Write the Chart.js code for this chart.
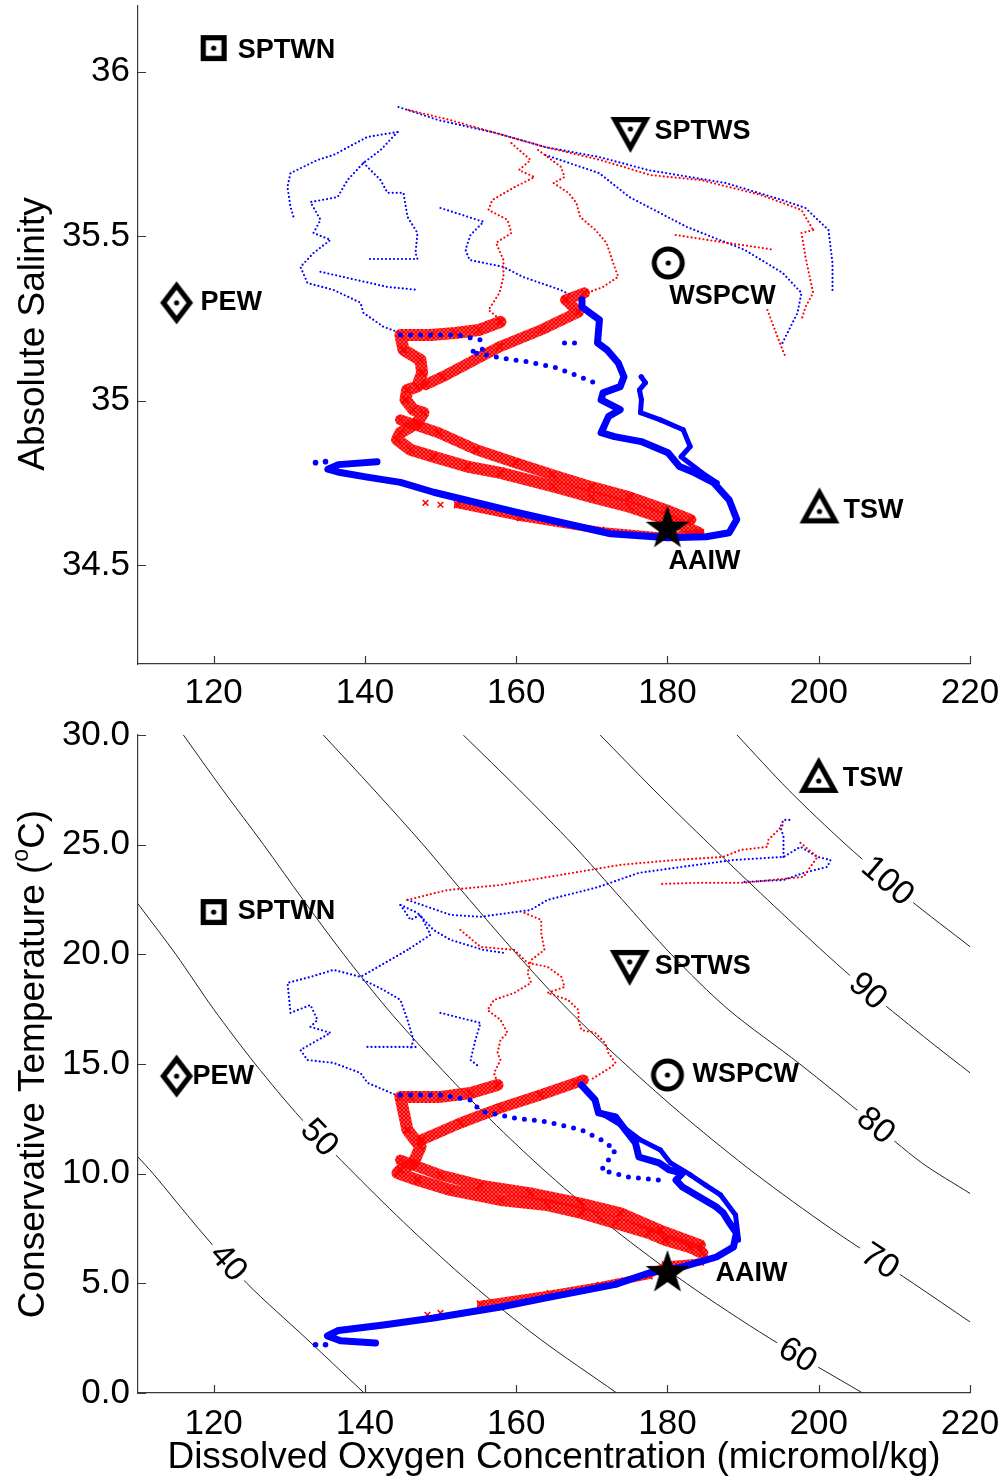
<!DOCTYPE html>
<html lang="en">
<head>
<meta charset="UTF-8">
<title>Absolute salinity and temperature against dissolved oxygen</title>
<script src="https://cdn.jsdelivr.net/npm/chart.js@4.4.0/dist/chart.umd.min.js"></script>
<style>
  body { margin: 0; background: #fff; }
  #wrap { position: relative; width: 1008px; height: 1478px; }
  #wrap canvas { position: absolute; left: 0; }
</style>
</head>
<body>
<div id="wrap">
  <canvas id="topChart" width="1008" height="720" style="top:0"></canvas>
  <canvas id="bottomChart" width="1008" height="778" style="top:700px"></canvas>
</div>
<script>
// ---- axes ----
const oxygenTicks = [120, 140, 160, 180, 200, 220];
const salinityTicks = [34.5, 35, 35.5, 36];
const tempTicks = [0, 5, 10, 15, 20, 25, 30];

// ---- water mass markers ----
const waterMasses = ['SPTWN', 'SPTWS', 'WSPCW', 'PEW', 'TSW', 'AAIW'];
const massO2Top = [120, 175.1, 180.1, 115.1, 200.1, 180.0];
const massSalTop = [36.072, 35.808, 35.419, 35.298, 34.682, 34.617];
const massO2Bot = [120, 175.0, 180.0, 115.1, 200.0, 180.0];
const massTempBot = [21.93, 19.38, 14.5, 14.45, 28.18, 5.56];

// ---- top panel: [oxygen, absolute salinity] ----
const topBlueDeep = [[168.70,35.307],[168.70,35.285],[171.01,35.246],[170.75,35.176],[172.0,35.155],[173.50,35.115],[174.25,35.073],[173.75,35.043],[171.48,35.024],[171.23,35.003],[173.75,34.973],[172.20,34.952],[171.23,34.903],[173.0,34.891],[176.53,34.876],[180.07,34.842],[181.59,34.800],[183.6,34.781],[186.1,34.751],[188.15,34.699],[189.17,34.639],[188.15,34.599],[185.12,34.587],[180.07,34.584],[172.5,34.596],[159.85,34.662],[149.1,34.722],[144.7,34.752],[140.3,34.768],[136.75,34.782],[135.1,34.792],[136.5,34.806],[141.6,34.815]];
const topBlueDeep2 = [[176.53,35.073],[177.09,35.055],[176.3,35.033],[176.56,35.003],[176.43,34.964],[179.07,34.942],[182.08,34.912],[183.0,34.861],[181.8,34.830],[184.57,34.781],[186.57,34.751]];
const topBlueBeads = [[144.7,35.200],[149.73,35.200],[152.24,35.200],[155.28,35.185],[155.54,35.155],[153.9,35.149],[157.79,35.131],[161.36,35.119],[164.93,35.103],[168.45,35.073],[170.95,35.049]];
const topBlueBeads2 = [[166.39,35.176],[167.97,35.176]];
const topBlueStray = [[133.47,34.812],[134.79,34.815]];

const topRedDeep1 = [[169.03,35.328],[166.53,35.307],[168.25,35.270],[163.34,35.216],[157.79,35.164],[150.26,35.073],[148.0,35.049]];
const topRedDeep2 = [[157.93,35.240],[155.02,35.215],[151.97,35.206],[148.67,35.200],[144.7,35.200],[145.1,35.155],[147.35,35.124],[147.57,35.085],[146.91,35.043],[145.59,35.033],[145.36,35.003],[146.42,34.973],[147.74,34.964],[146.91,34.933],[144.70,34.903],[144.26,34.882],[146.03,34.851],[149.07,34.830],[153.52,34.800],[157.93,34.781],[164.91,34.740],[169.95,34.708],[174.98,34.678],[180.07,34.639],[184.1,34.599]];
const topRedDeep3 = [[144.7,34.942],[149.73,34.903],[154.75,34.851],[159.9,34.812],[164.8,34.775],[169.95,34.739],[174.98,34.708],[179.8,34.669],[183.1,34.639]];
const topRedDeep4 = [[152.24,34.684],[160.57,34.645],[171.15,34.606],[179.6,34.588],[184.36,34.599]];
const topRedStray = [[148.01,34.690],[149.99,34.684]];

const topBlueSurf1 = [[144.44,35.893],[149.73,35.853],[157.33,35.814],[163.87,35.771],[170.97,35.741],[177.49,35.701],[187.67,35.662],[195.21,35.610],[198.25,35.586],[201.29,35.519],[201.82,35.419],[201.82,35.328]];
const topBlueSurf2 = [[163.87,35.747],[170.97,35.692],[174.98,35.619],[182.59,35.528],[190.18,35.459],[195.21,35.389],[197.72,35.328],[197.19,35.267],[195.21,35.176]];
const topBlueSurf3 = [[144.31,35.817],[140.34,35.802],[135.85,35.747],[133.73,35.732],[130.16,35.692],[129.76,35.650],[130.16,35.589],[130.56,35.559]];
const topBlueSurf4 = [[144.31,35.817],[142.06,35.762],[139.81,35.723],[137.70,35.671],[136.38,35.619],[132.8,35.604],[134.13,35.550],[133.2,35.510],[135.45,35.489],[133.2,35.449],[131.48,35.407],[132.4,35.358],[135.85,35.337],[139.42,35.298],[139.81,35.267],[142.45,35.225],[144.7,35.206]];
const topBlueSurf5 = [[139.81,35.723],[142.06,35.671],[142.98,35.632],[145.10,35.632],[145.63,35.559],[146.95,35.510],[146.69,35.449],[146.95,35.431],[140.34,35.431]];
const topBlueSurf6 = [[149.99,35.586],[155.68,35.544],[153.96,35.504],[153.30,35.459],[153.83,35.428],[158.32,35.407],[160.83,35.377],[165.86,35.337],[167.84,35.313]];
const topBlueSurf7 = [[134.13,35.392],[142.98,35.346],[147.0,35.337]];

const topRedSurf1 = [[145.76,35.884],[151.31,35.853],[157.27,35.814],[163.87,35.771],[171.15,35.732],[177.76,35.686],[184.4,35.671],[192.3,35.626],[197.72,35.580],[199.26,35.519]];
const topRedSurf2 = [[199.26,35.519],[197.72,35.510],[198.25,35.437],[199.26,35.328],[198.25,35.285],[197.72,35.246]];
const topRedSurf3 = [[193.22,35.276],[194.21,35.215],[195.21,35.155],[195.6,35.134]];
const topRedSurf4 = [[181.1,35.504],[187.0,35.483],[194.15,35.459]];
const topRedSurf5 = [[159.38,35.783],[161.89,35.732],[160.37,35.701],[162.42,35.680],[159.85,35.650],[156.83,35.610],[156.34,35.580],[158.85,35.550],[159.38,35.510],[157.33,35.480],[158.32,35.428],[158.32,35.377],[157.79,35.328],[156.34,35.276],[157.93,35.246]];
const topRedSurf6 = [[162.90,35.762],[165.92,35.711],[166.39,35.680],[164.93,35.662],[166.91,35.632],[167.97,35.601],[168.45,35.559],[170.48,35.519],[171.94,35.480],[173.0,35.407],[173.50,35.377],[171.48,35.346],[169.43,35.328]];

// ---- bottom panel: [oxygen, conservative temperature] ----
const botBlueDeep = [[168.63,14.04],[170.43,13.36],[170.88,12.77],[173.13,12.59],[174.45,11.99],[175.77,11.40],[176.22,10.76],[178.89,10.49],[180.23,10.17],[181.99,10.03],[181.13,9.71],[181.99,9.39],[184.23,8.94],[186.48,8.48],[187.37,8.21],[188.20,7.75],[189.12,7.30],[188.73,6.66],[186.48,6.20],[181.99,5.75],[177.56,5.47],[173.13,4.95],[164.14,4.35],[157.93,3.92],[149.07,3.42],[142.45,3.10],[136.5,2.85],[135.05,2.6],[136.77,2.38],[141.4,2.28]];
const botBlueDeep2 = [[171.15,12.77],[173.79,12.22],[176.43,11.54],[179.07,11.08],[180.4,10.49],[183.05,9.94],[185.03,9.48],[187.02,9.03],[189.0,8.12],[189.4,6.98]];
const botBlueBeads = [[144.70,13.59],[149.99,13.59],[153.96,13.36],[155.28,12.86],[159.74,12.54],[164.14,12.36],[168.63,11.99],[171.28,11.54],[173.13,11.08],[172.20,10.62],[171.28,10.17],[174.85,9.85],[178.89,9.71]];
const botBlueStray = [[133.47,2.2],[134.79,2.2]];

const botRedDeep1 = [[147.5,11.54],[152.63,12.31],[157.93,13.0],[163.2,13.59],[167.84,14.14],[168.9,14.27]];
const botRedDeep2 = [[157.53,14.04],[153.96,13.68],[149.99,13.50],[146.03,13.50],[144.70,13.50],[145.63,11.99],[147.35,11.22],[146.42,10.49],[144.70,10.17],[144.31,10.03],[146.95,9.71],[151.31,9.26],[157.93,8.80],[164.14,8.57],[168.63,8.21],[173.13,7.75],[177.56,7.30],[179.74,6.98],[182.91,6.66],[184.63,6.38]];
const botRedDeep3 = [[144.70,10.62],[149.99,9.94],[155.28,9.48],[161.89,9.12],[168.5,8.66],[173.79,8.21],[179.07,7.43],[184.36,6.75]];
const botRedDeep4 = [[155.28,4.05],[164.5,4.52],[171.15,4.90],[177.56,5.35],[179.74,5.84],[184.36,5.97]];
const botRedStray = [[148.27,3.56],[149.99,3.65]];

const botBlueSurf1 = [[145.63,22.48],[151.31,21.80],[155.28,21.71],[161.89,22.02],[164.14,22.48],[170.88,23.07],[176.17,23.71],[181.99,23.99],[188.73,24.30],[195.34,24.44],[197.59,24.90],[199.83,24.44],[201.55,24.30],[201.15,23.99],[198.0,23.71],[195.34,23.39],[190.04,23.30]];
const botBlueSurf2 = [[195.34,24.44],[195.34,25.36],[194.94,25.81],[195.34,26.13],[196.5,26.13]];
const botBlueSurf3 = [[145.63,20.20],[140.34,19.15],[139.42,18.97],[135.85,19.29],[132.80,18.97],[129.77,18.70],[130.16,17.33],[132.80,17.69],[133.73,17.01],[132.80,16.69],[135.45,16.42],[131.48,15.64],[132.4,15.18],[135.85,15.05],[139.42,14.59],[140.34,14.14],[144.70,13.50]];
const botBlueSurf4 = [[139.81,18.83],[142.45,18.38],[144.70,17.92],[145.63,17.01],[146.42,16.10],[146.03,15.64]];
const botBlueSurf5 = [[144.70,22.25],[146.95,21.89],[149.07,21.11],[151.31,20.66],[155.68,20.20],[158.5,20.06]];
const botBlueSurf6 = [[149.99,17.33],[155.28,16.87],[154.62,16.10],[153.96,15.18],[155.0,14.9]];
const botBlueSurf7 = [[140.34,15.78],[146.95,15.78]];
const botBlueSurf8 = [[144.70,22.25],[146.03,21.57],[147.35,21.80],[148.67,20.89],[145.63,20.20]];

const botRedSurf1 = [[145.63,22.48],[150.9,22.93],[157.93,23.16],[165.86,23.62],[173.79,24.08],[181.06,24.30],[187.4,24.44],[189.67,24.76],[193.2,24.90],[193.35,25.22],[194.67,25.67],[195.5,25.99]];
const botRedSurf2 = [[197.59,25.08],[199.83,24.44],[198.0,23.53],[190.04,23.26],[184.36,23.26],[179.07,23.21]];
const botRedSurf3 = [[161.1,21.89],[163.31,21.57],[163.31,20.98],[163.74,20.20],[161.97,19.74],[161.5,19.15],[161.97,18.70],[159.74,18.24],[157.07,17.92],[156.21,17.46],[157.93,17.01],[158.85,16.42],[157.93,16.10],[157.53,15.50],[157.93,15.18],[157.07,14.59],[157.53,14.14]];
const botRedSurf4 = [[152.63,21.11],[155.28,20.34],[159.74,20.20],[161.5,19.61],[164.14,19.43],[165.99,18.97],[166.39,18.51],[164.14,18.24],[166.86,17.92],[168.24,17.46],[168.24,17.01],[168.63,16.55],[170.43,16.42],[171.77,15.96],[172.2,15.50],[173.13,15.05],[172.6,14.87],[169.82,14.27]];

// ---- oxygen saturation contours (%) ----
const contourLevels = ['40', '50', '60', '70', '80', '90', '100'];
const contour40 = [[139.9,0],[132.2,2.5],[124.4,5],[118.0,7.5],[112.0,10],[110,10.76]];
const contour50 = [[173.3,0],[163.0,2.5],[154.0,5],[146.0,7.5],[138.6,10],[131.6,12.5],[125.5,15],[120.0,17.5],[115.0,20],[110,22.3]];
const contour60 = [[205.8,0],[193.5,2.5],[182.5,5],[172.8,7.5],[164.2,10],[156.5,12.5],[149.5,15],[143.0,17.5],[137.2,20],[131.8,22.5],[126.6,25],[121.2,27.5],[116.0,30]];
const contour70 = [[220,3.24],[212.5,5],[201.6,7.5],[191.6,10],[182.6,12.5],[174.4,15],[166.8,17.5],[160.1,20],[153.8,22.5],[147.7,25],[141.2,27.5],[134.5,30]];
const contour80 = [[220,9.1],[213.6,10.5],[206.5,12.5],[197.5,15],[188.0,17.5],[180.5,20],[174.0,22.5],[167.5,25],[160.4,27.5],[153.0,30]];
const contour90 = [[220,14.6],[214.8,16],[206.8,18.24],[201.0,20],[193.2,22.5],[185.6,25],[178.2,27.5],[171.1,30]];
const contour100 = [[220,20.35],[212.0,22.5],[203.6,25],[196.0,27.5],[189.2,30]];
const contourLabelO2 = [121.6, 133.7, 197.0, 207.6, 207.1, 206.3, 209.0];
const contourLabelTemp = [5.84, 11.54, 1.6, 5.75, 12.0, 18.24, 23.3];

// ---- styling ----
const FONT = '"Liberation Sans", Arial, sans-serif';
const BLUE = '#0000ff', RED = '#ff0000', AXIS = '#3a3a3a';
// label offsets (px) from each marker, same order as waterMasses
const topLabelOffsets = [[24, 2], [24, -3], [1, 34], [24, 0], [24, 5], [1, 35]];
const botLabelOffsets = [[24, 0], [25, -1], [25, 0], [16, 0], [24, 4], [48, 2]];

// red "x" texture for the dense cross-marker bands
const X_PATTERN = (() => {
  const c = document.createElement('canvas');
  c.width = 4; c.height = 4;
  const g = c.getContext('2d');
  g.strokeStyle = RED; g.lineWidth = 1.8;
  g.beginPath(); g.moveTo(0, 0); g.lineTo(4, 4); g.moveTo(4, 0); g.lineTo(0, 4); g.stroke();
  return document.createElement('canvas').getContext('2d').createPattern(c, 'repeat');
})();

// marker symbols drawn once, used as point styles
function makeSymbol(kind) {
  const c = document.createElement('canvas');
  const g = c.getContext('2d');
  g.fillStyle = '#000';
  let outer, centre, k;
  if (kind === 'square') {
    c.width = 30; c.height = 30;
    outer = [[2,2],[28,2],[28,28],[2,28]]; centre = [15,15]; k = 0.6;
  } else if (kind === 'diamond') {
    c.width = 36; c.height = 46;
    outer = [[18,1.5],[34.5,23],[18,44.5],[1.5,23]]; centre = [18,23]; k = 0.6;
  } else if (kind === 'triDown') {
    c.width = 44; c.height = 40;
    outer = [[2,2],[42,2],[22,38]]; centre = [22,14]; k = 0.56;
  } else if (kind === 'triUp') {
    c.width = 44; c.height = 40;
    outer = [[22,2],[42,38],[2,38]]; centre = [22,26]; k = 0.56;
  }
  if (kind === 'circle') {
    c.width = 36; c.height = 36;
    g.beginPath(); g.arc(18, 18, 16.5, 0, Math.PI * 2); g.arc(18, 18, 11.5, 0, Math.PI * 2, true); g.fill();
    g.beginPath(); g.arc(18, 18, 2.6, 0, Math.PI * 2); g.fill();
    return c;
  }
  if (kind === 'star') {
    c.width = 48; c.height = 46;
    g.beginPath();
    for (let i = 0; i < 10; i++) {
      const r = i % 2 ? 9 : 23, a = -Math.PI / 2 + i * Math.PI / 5;
      g.lineTo(24 + r * Math.cos(a), 25 + r * Math.sin(a));
    }
    g.closePath(); g.fill();
    return c;
  }
  g.beginPath();
  outer.forEach((p, i) => i ? g.lineTo(p[0], p[1]) : g.moveTo(p[0], p[1]));
  g.closePath();
  const inner = outer.map(p => [centre[0] + (p[0] - centre[0]) * k, centre[1] + (p[1] - centre[1]) * k]);
  inner.forEach((p, i) => i ? g.lineTo(p[0], p[1]) : g.moveTo(p[0], p[1]));
  g.closePath();
  g.fill('evenodd');
  g.beginPath(); g.arc(centre[0], centre[1], 2.6, 0, Math.PI * 2); g.fill();
  return c;
}
const SYMBOLS = ['square', 'triDown', 'circle', 'diamond', 'triUp', 'star'].map(makeSymbol);

// ---- dataset helpers ----
const pts = a => a.map(p => ({ x: p[0], y: p[1] }));

function dotted(a, color) {
  return { data: pts(a), showLine: true, borderColor: color, borderWidth: 2.2, borderDash: [0, 4],
           borderCapStyle: 'round', pointRadius: 0, tension: 0 };
}
function band(a, w, r) {
  return { data: pts(a), showLine: true, borderColor: BLUE, borderWidth: w, borderJoinStyle: 'round',
           borderCapStyle: 'round', pointRadius: r, pointBackgroundColor: BLUE, pointBorderWidth: 0, tension: 0 };
}
function beads(a) {
  return { data: pts(a), showLine: true, borderColor: BLUE, borderWidth: 5, borderDash: [0, 10],
           borderCapStyle: 'round', pointRadius: 0, tension: 0 };
}
function xband(a, w) {
  return { data: pts(a), showLine: true, borderColor: X_PATTERN, borderWidth: w, borderJoinStyle: 'round',
           borderCapStyle: 'round', pointStyle: 'crossRot', pointRadius: 5, pointBorderColor: RED,
           pointBorderWidth: 1.5, tension: 0 };
}
function stray(a, style, r, color) {
  return { data: pts(a), showLine: false, pointStyle: style, pointRadius: r, pointBorderColor: color,
           pointBackgroundColor: color, pointBorderWidth: style === 'crossRot' ? 1.5 : 0 };
}
function contour(a, i) {
  return { data: pts(a), showLine: true, borderColor: '#222', borderWidth: 1, pointRadius: 0, tension: 0.3,
           contourLabel: { text: contourLevels[i], o2: contourLabelO2[i], temp: contourLabelTemp[i] } };
}
function markers(o2, val, offsets) {
  return { data: o2.map((x, i) => ({ x, y: val[i] })), showLine: false, pointStyle: SYMBOLS,
           pointRadius: 15, massNames: waterMasses, labelOffsets: offsets };
}

// ---- plugins ----
const inTicks = {
  id: 'inTicks',
  afterDraw(chart) {
    const { ctx, chartArea: a, scales: { x, y } } = chart;
    ctx.save();
    ctx.strokeStyle = AXIS; ctx.lineWidth = 1.2;
    ctx.beginPath();
    x.ticks.forEach(t => {
      const px = Math.round(x.getPixelForValue(t.value)) + 0.5;
      ctx.moveTo(px, a.bottom); ctx.lineTo(px, a.bottom - 8);
    });
    y.ticks.forEach(t => {
      const py = Math.round(y.getPixelForValue(t.value)) + 0.5;
      ctx.moveTo(a.left, py); ctx.lineTo(a.left + 8, py);
    });
    ctx.stroke();
    ctx.restore();
  }
};

const contourLabels = {
  id: 'contourLabels',
  afterDatasetDraw(chart, args) {
    const ds = chart.data.datasets[args.index];
    if (!ds.contourLabel) return;
    const { ctx, scales: { x, y } } = chart;
    const lx = x.getPixelForValue(ds.contourLabel.o2), ly = y.getPixelForValue(ds.contourLabel.temp);
    const p = args.meta.data;
    let best = null;
    for (let i = 0; i < p.length - 1; i++) {
      const dx = p[i + 1].x - p[i].x, dy = p[i + 1].y - p[i].y;
      let t = ((lx - p[i].x) * dx + (ly - p[i].y) * dy) / (dx * dx + dy * dy);
      t = Math.max(0, Math.min(1, t));
      const cx = p[i].x + t * dx, cy = p[i].y + t * dy;
      const d = (cx - lx) ** 2 + (cy - ly) ** 2;
      if (!best || d < best.d) best = { d, cx, cy, ang: Math.atan2(dy, dx) };
    }
    let ang = best.ang;
    if (ang > Math.PI / 2) ang -= Math.PI;
    if (ang < -Math.PI / 2) ang += Math.PI;
    ctx.save();
    ctx.translate(best.cx, best.cy);
    ctx.rotate(ang);
    ctx.font = '34px ' + FONT;
    const w = ctx.measureText(ds.contourLabel.text).width;
    ctx.fillStyle = '#fff';
    ctx.fillRect(-w / 2 - 5, -15, w + 10, 30);
    ctx.fillStyle = '#000';
    ctx.textAlign = 'center'; ctx.textBaseline = 'middle';
    ctx.fillText(ds.contourLabel.text, 0, 1);
    ctx.restore();
  }
};

const massLabels = {
  id: 'massLabels',
  afterDatasetsDraw(chart) {
    const ctx = chart.ctx;
    chart.data.datasets.forEach((ds, i) => {
      if (!ds.massNames) return;
      ctx.save();
      ctx.font = 'bold 27px ' + FONT;
      ctx.fillStyle = '#000'; ctx.textAlign = 'left'; ctx.textBaseline = 'middle';
      chart.getDatasetMeta(i).data.forEach((pt, j) => {
        const off = ds.labelOffsets[j];
        ctx.fillText(ds.massNames[j], pt.x + off[0], pt.y + off[1]);
      });
      ctx.restore();
    });
  }
};

function drawRich(ctx, parts, x, y, rot, size) {
  ctx.save();
  ctx.translate(x, y);
  ctx.rotate(rot);
  ctx.fillStyle = '#000';
  ctx.textBaseline = 'alphabetic';
  const fonts = parts.map(p => (p.sup ? Math.round(size * 0.62) : size) + 'px ' + FONT);
  const widths = parts.map((p, i) => { ctx.font = fonts[i]; return ctx.measureText(p.text).width; });
  let cx = -widths.reduce((s, v) => s + v, 0) / 2;
  parts.forEach((p, i) => {
    ctx.font = fonts[i];
    ctx.fillText(p.text, cx, p.sup ? -size * 0.42 : 0);
    cx += widths[i];
  });
  ctx.restore();
}

const axisTitles = {
  id: 'axisTitles',
  afterDraw(chart, args, o) {
    if (o.y) drawRich(chart.ctx, o.y.parts, o.y.x, o.y.y, -Math.PI / 2, o.size);
    if (o.x) drawRich(chart.ctx, o.x.parts, o.x.x, o.x.y, 0, o.size);
  }
};

// ---- chart builder ----
function buildChart(id, cfg) {
  return new Chart(document.getElementById(id), {
    type: 'scatter',
    data: { datasets: cfg.datasets },
    options: {
      responsive: false,
      animation: false,
      devicePixelRatio: 1,
      layout: { padding: cfg.padding, autoPadding: false },
      plugins: { legend: { display: false }, tooltip: { enabled: false }, axisTitles: cfg.titles },
      scales: {
        x: {
          type: 'linear', min: 110, max: 220,
          afterBuildTicks: s => { s.ticks = oxygenTicks.map(v => ({ value: v })); },
          afterFit: s => { s.height = cfg.xHeight; s.paddingLeft = 0; s.paddingRight = 0; },
          grid: { display: false, drawTicks: false },
          border: { display: true, color: AXIS, width: 1.2 },
          ticks: { color: '#000', font: { family: FONT, size: 35 }, padding: cfg.xPad,
                   maxRotation: 0, autoSkip: false, callback: v => String(v) }
        },
        y: {
          type: 'linear', min: cfg.yMin, max: cfg.yMax,
          afterBuildTicks: s => { s.ticks = cfg.yTicks.map(v => ({ value: v })); },
          afterFit: s => { s.width = 138; s.paddingTop = 0; s.paddingBottom = 0; },
          grid: { display: false, drawTicks: false },
          border: { display: true, color: AXIS, width: 1.2 },
          ticks: { color: '#000', font: { family: FONT, size: 35 }, padding: 8,
                   autoSkip: false, callback: cfg.yFmt }
        }
      }
    },
    plugins: [inTicks, contourLabels, massLabels, axisTitles]
  });
}

buildChart('topChart', {
  padding: { left: 0, right: 38, top: 6, bottom: 0 },
  xHeight: 56, xPad: 8,
  yMin: 34.2, yMax: 36.2, yTicks: salinityTicks, yFmt: v => String(v),
  titles: { size: 37, y: { parts: [{ text: 'Absolute Salinity' }], x: 44, y: 334 } },
  datasets: [
    markers(massO2Top, massSalTop, topLabelOffsets),
    band(topBlueDeep, 7, 3),
    band(topBlueDeep2, 5, 2.5),
    beads(topBlueBeads), beads(topBlueBeads2),
    stray(topBlueStray, 'circle', 2.8, BLUE),
    xband(topRedDeep4, 7),
    xband(topRedDeep1, 11), xband(topRedDeep2, 12), xband(topRedDeep3, 11),
    stray(topRedStray, 'crossRot', 4, RED),
    dotted(topRedSurf1, RED), dotted(topRedSurf2, RED), dotted(topRedSurf3, RED),
    dotted(topRedSurf4, RED), dotted(topRedSurf5, RED), dotted(topRedSurf6, RED),
    dotted(topBlueSurf1, BLUE), dotted(topBlueSurf2, BLUE), dotted(topBlueSurf3, BLUE),
    dotted(topBlueSurf4, BLUE), dotted(topBlueSurf5, BLUE), dotted(topBlueSurf6, BLUE),
    dotted(topBlueSurf7, BLUE)
  ]
});

buildChart('bottomChart', {
  padding: { left: 0, right: 38, top: 35, bottom: 0 },
  xHeight: 85, xPad: 10,
  yMin: 0, yMax: 30, yTicks: tempTicks, yFmt: v => v.toFixed(1),
  titles: {
    size: 37,
    y: { parts: [{ text: 'Conservative Temperature (' }, { text: 'o', sup: true }, { text: 'C)' }], x: 44, y: 364 },
    x: { parts: [{ text: 'Dissolved Oxygen Concentration (micromol/kg)' }], x: 554, y: 768 }
  },
  datasets: [
    markers(massO2Bot, massTempBot, botLabelOffsets),
    band(botBlueDeep, 7, 3),
    band(botBlueDeep2, 5, 2.5),
    beads(botBlueBeads),
    stray(botBlueStray, 'circle', 2.8, BLUE),
    xband(botRedDeep4, 7),
    xband(botRedDeep1, 11), xband(botRedDeep2, 12), xband(botRedDeep3, 11),
    stray(botRedStray, 'crossRot', 4, RED),
    dotted(botRedSurf1, RED), dotted(botRedSurf2, RED), dotted(botRedSurf3, RED), dotted(botRedSurf4, RED),
    dotted(botBlueSurf1, BLUE), dotted(botBlueSurf2, BLUE), dotted(botBlueSurf3, BLUE),
    dotted(botBlueSurf4, BLUE), dotted(botBlueSurf5, BLUE), dotted(botBlueSurf6, BLUE),
    dotted(botBlueSurf7, BLUE), dotted(botBlueSurf8, BLUE),
    contour(contour40, 0), contour(contour50, 1), contour(contour60, 2), contour(contour70, 3),
    contour(contour80, 4), contour(contour90, 5), contour(contour100, 6)
  ]
});
</script>
</body>
</html>
